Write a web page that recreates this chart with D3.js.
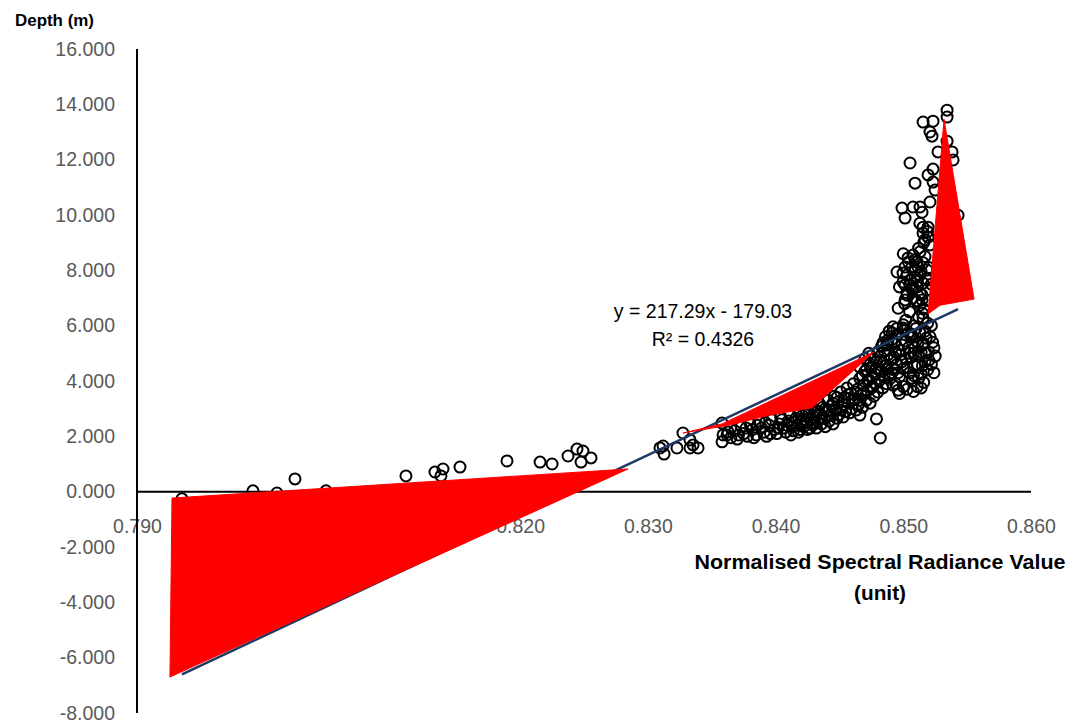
<!DOCTYPE html>
<html><head><meta charset="utf-8">
<script src="https://cdn.jsdelivr.net/npm/d3@7"></script>
<style>body{margin:0;background:#fff}svg{display:block}</style>
</head><body>
<script>
// ---- data ----
const xTicks = [0.79, 0.80, 0.81, 0.82, 0.83, 0.84, 0.85, 0.86];
const yTicks = [-8, -6, -4, -2, 0, 2, 4, 6, 8, 10, 12, 14, 16];
const trendSlope = 217.29, trendIntercept = -179.03, rSquared = 0.4326;

const sparsePoints = [
  [0.79352,-0.26],[0.79908,0.03],[0.80096,-0.05],[0.80237,0.46],[0.80480,0.03],
  [0.81106,0.57],[0.81333,0.71],[0.81396,0.82],[0.81380,0.57],[0.81529,0.89],
  [0.81897,1.11],[0.82156,1.07],[0.82250,1.00],[0.82375,1.29],[0.82445,1.54],
  [0.82492,1.47],[0.82477,1.07],[0.82555,1.22]
];
const transitionPoints = [
  [0.83119,1.65],[0.83095,1.58],[0.83127,1.36],[0.83228,1.58],[0.83275,2.12],
  [0.83330,1.87],[0.83354,1.69],[0.83393,1.58],[0.83330,1.58],[0.83581,2.48],
  [0.83589,2.05],[0.83581,1.80],[0.83628,2.16]
];
const bodyPoints = [
  [0.8362,2.05],[0.8365,1.95],[0.8368,2.20],[0.8370,1.90],[0.8373,2.35],[0.8375,2.10],[0.8378,2.00],
  [0.8380,2.45],[0.8382,2.25],[0.8385,2.05],[0.8387,2.55],[0.8389,2.30],[0.8391,2.15],[0.8393,2.00],
  [0.8395,2.40],[0.8397,2.60],[0.8399,2.25],
  [0.8401,2.10],[0.8403,2.45],[0.8404,2.70],[0.8406,2.30],[0.8408,2.15],[0.8410,2.55],[0.8411,2.85],
  [0.8413,2.35],[0.8414,2.20],[0.8416,2.65],[0.8417,2.40],[0.8418,2.90],[0.8419,2.25],[0.8420,2.55],
  [0.8421,2.75],[0.8422,2.35],[0.8423,3.00],[0.8424,2.50],[0.8425,2.25],[0.8426,2.85],[0.8427,2.60],
  [0.8428,3.10],[0.8429,2.40],[0.8430,2.70],[0.8431,2.95],[0.8432,2.30],[0.8433,2.55],[0.8434,3.20],
  [0.8435,2.80],[0.8436,2.45],[0.8437,3.05],[0.8438,2.65],[0.8439,2.35],[0.8440,2.90],
  [0.8441,3.30],[0.8442,2.55],[0.8443,2.75],[0.8444,3.10],[0.8445,2.45],[0.8446,3.45],[0.8447,2.95],
  [0.8448,2.65],[0.8449,3.25],[0.8450,2.80],[0.8451,3.60],[0.8452,3.05],[0.8453,2.70],[0.8454,3.40],
  [0.8455,2.90],[0.8456,3.75],[0.8457,3.20],[0.8458,2.85],[0.8459,3.55],[0.8460,3.00],
  [0.8461,3.90],[0.8462,3.35],[0.8463,2.95],[0.8464,3.70],[0.8465,3.15],[0.8466,4.10],[0.8467,3.50],
  [0.8468,3.05],[0.8469,3.85],[0.8470,4.35],[0.8471,3.30],[0.8472,3.65],[0.8473,4.05],[0.8474,3.20],
  [0.8475,4.50],[0.8476,3.80],[0.8477,3.45],[0.8478,4.25],[0.8479,4.70],[0.8480,3.60],
  [0.8482,1.94],[0.8479,2.63],[0.8466,2.77],
  [0.8481,4.00],[0.8482,4.90],[0.8483,4.35],[0.8484,3.75],[0.8485,5.10],[0.8486,4.55],[0.8487,3.90],
  [0.8488,5.35],[0.8489,4.20],[0.8490,4.75],[0.8491,5.50],[0.8492,3.85],[0.8493,4.40],[0.8494,5.05],
  [0.8495,4.60],[0.8496,5.70],[0.8497,4.15],[0.8498,4.95],[0.8499,5.30],[0.8500,4.45],
  [0.8501,5.85],[0.8502,4.80],[0.8503,3.70],[0.8504,5.20],[0.8505,4.30],[0.8506,5.60],[0.8507,4.00],
  [0.8508,5.00],[0.8509,4.55],[0.8510,5.45],[0.8511,3.80],[0.8512,4.90],[0.8513,5.75],[0.8514,4.25],
  [0.8515,5.30],[0.8516,3.95],[0.8517,4.70],[0.8518,5.55],[0.8519,4.40],[0.8520,5.05],
  [0.8522,4.60],[0.8524,5.20],[0.8496,3.67],[0.8507,4.10],
  [0.8365,2.30],[0.8371,2.05],[0.8377,2.30],[0.8383,1.95],[0.8386,2.40],[0.8392,2.50],[0.8396,2.10],
  [0.8402,2.30],[0.8405,2.60],[0.8409,2.40],[0.8412,2.05],[0.8415,2.50],[0.8418,2.15],[0.8421,2.45],
  [0.8424,2.85],[0.8427,2.30],[0.8430,2.50],[0.8433,2.90],[0.8436,2.65],[0.8439,3.00],[0.8442,2.95],
  [0.8445,3.20],[0.8448,3.40],[0.8451,2.95],[0.8454,3.15],[0.8457,3.50],[0.8460,3.30],[0.8463,3.60],
  [0.8466,3.30],[0.8469,3.55],[0.8472,4.00],[0.8475,3.75],[0.8478,3.90],[0.8481,4.40],[0.8484,4.65],
  [0.8487,4.45],[0.8490,4.10],[0.8493,4.85],[0.8496,4.30],[0.8499,4.70],[0.8502,5.45],[0.8505,5.00],
  [0.8508,4.20],[0.8511,4.60],[0.8514,5.05],[0.8517,5.80],[0.8520,4.75],[0.8523,5.40],[0.8486,5.60],
  [0.8489,5.80],[0.8495,5.90],[0.8483,5.25],[0.8480,5.05],[0.8477,4.80],[0.8474,4.60],[0.8471,4.40],
  [0.8468,4.20],[0.8470,4.80],[0.8473,5.00],[0.8466,4.50],
  [0.8492,5.96],[0.8500,6.03],[0.8519,6.09],[0.8512,6.31],[0.8515,6.45],[0.8513,6.74],[0.8496,6.63],
  [0.8491,4.30],[0.8494,3.90],[0.8497,5.10],[0.8500,3.80],[0.8503,4.50],[0.8506,4.85],[0.8509,5.20],
  [0.8512,4.10],[0.8515,4.55],[0.8518,5.00],[0.8521,5.60],[0.8524,4.30],[0.8525,4.90],[0.8488,4.95],
  [0.8485,4.20],[0.8482,4.70],[0.8479,4.45],[0.8476,4.15],[0.8487,5.30],[0.8493,5.35],[0.8504,5.75],
  [0.8510,5.90],[0.8516,5.35],[0.8522,6.00],[0.8497,3.55],[0.8508,3.62],[0.8514,3.75]
];
const columnPoints = [
  [0.85343,13.79],[0.85343,13.54],[0.85155,13.36],[0.85233,13.39],[0.85209,13.00],[0.85225,12.85],
  [0.85343,12.67],[0.85272,12.28],[0.85382,12.28],[0.85390,11.99],[0.85053,11.88],[0.85233,11.66],
  [0.85194,11.45],[0.85233,11.19],[0.85092,11.15],[0.85249,10.90],[0.85209,10.47],[0.85076,10.29],
  [0.85131,10.29],[0.85147,10.10],[0.84990,10.25],[0.85014,9.89],[0.85429,9.99],[0.85155,9.56],
  [0.85194,9.56],[0.85155,9.34],[0.85194,9.20],[0.85170,9.10],[0.85209,8.92],[0.85131,8.67],
  [0.85076,8.55],[0.85037,8.45],[0.85092,8.38],[0.85014,8.12],[0.85068,8.12],[0.85115,8.12],
  [0.85155,8.27],[0.85186,8.01],[0.85029,7.83],[0.85092,7.76],[0.85131,7.83],[0.84998,7.58],
  [0.85053,7.47],[0.85108,7.40],[0.85155,7.54],[0.85029,7.18],[0.85076,7.00],[0.85147,7.11],
  [0.85186,7.29],[0.85014,6.93],[0.84951,7.94],[0.84998,7.90],[0.85108,8.30],[0.85053,7.65],
  [0.85014,7.47],[0.85076,7.36],[0.85131,7.18],[0.85108,6.86],[0.85147,6.93],[0.85155,6.28],
  [0.84841,5.38],[0.84912,5.74],[0.84998,5.92],[0.85076,5.59],[0.85115,5.38],[0.84880,5.48],
  [0.8502,6.20],[0.8505,6.50],[0.8508,6.00],[0.8510,6.90],[0.8503,7.10],[0.8507,7.30],[0.8511,7.60],
  [0.8514,7.95],[0.8517,8.50],[0.8512,8.80],[0.8516,9.00],[0.8519,9.40],[0.8513,9.70],[0.8520,8.10],
  [0.8518,7.70],[0.8509,8.00],[0.8504,8.30],[0.8500,8.60],[0.8497,7.40],[0.8501,6.80],[0.8506,5.70],
  [0.8516,6.60],[0.8520,6.90],[0.8522,7.50]
];
const redShapeA = [[0.79274,-0.23],[0.79258,-6.70],[0.82845,0.82]];
const redShapeB = [[0.83275,2.12],[0.83581,2.45],[0.84771,5.05],[0.84286,3.03],[0.83957,2.77],[0.83643,2.41]];
const redShapeC = [[0.85319,13.46],[0.85554,6.96],[0.85288,6.74],[0.85194,6.42]];

// ---- chart ----
const W = 1071, H = 725;
const svg = d3.select("body").append("svg").attr("width", W).attr("height", H);
const x = d3.scaleLinear().domain([0.79, 0.86]).range([137, 1031]);
const y = d3.scaleLinear().domain([-8, 16]).range([713, 49]);
const font = "'Liberation Sans', Arial, sans-serif";

// y axis labels
const yAx = svg.append("g").attr("transform", `translate(${x(0.79)},0)`)
  .call(d3.axisLeft(y).tickValues(yTicks).tickSize(0).tickPadding(22).tickFormat(d => d.toFixed(3)));
yAx.select(".domain").remove();
yAx.selectAll("text").attr("font-family", font).attr("font-size", 19.5).attr("fill", "#595959");

// x axis labels
const xAx = svg.append("g").attr("transform", `translate(0,${y(0)})`)
  .call(d3.axisBottom(x).tickValues(xTicks).tickSize(0).tickPadding(27).tickFormat(d => d.toFixed(3)));
xAx.select(".domain").remove();
xAx.selectAll("text").attr("font-family", font).attr("font-size", 19.5).attr("fill", "#595959");

// axis lines
svg.append("line").attr("x1", x(0.79)).attr("x2", x(0.79)).attr("y1", y(16)).attr("y2", y(-8))
  .attr("stroke", "#000").attr("stroke-width", 2);
svg.append("line").attr("x1", x(0.79)).attr("x2", x(0.86)).attr("y1", y(0)).attr("y2", y(0))
  .attr("stroke", "#000").attr("stroke-width", 2);

// points
const allPoints = [...sparsePoints, ...transitionPoints, ...bodyPoints, ...columnPoints];
svg.append("g").selectAll("circle").data(allPoints).join("circle")
  .attr("cx", d => x(d[0])).attr("cy", d => y(d[1])).attr("r", 5.5)
  .attr("fill", "none").attr("stroke", "#000").attr("stroke-width", 2);

// trend line
const xs = d3.extent(allPoints, d => d[0]);
svg.append("line")
  .attr("x1", x(xs[0])).attr("y1", y(trendSlope * xs[0] + trendIntercept))
  .attr("x2", x(xs[1])).attr("y2", y(trendSlope * xs[1] + trendIntercept))
  .attr("stroke", "#1f3864").attr("stroke-width", 2.5);

// red shapes
const poly = d3.line().x(d => x(d[0])).y(d => y(d[1])).curve(d3.curveLinearClosed);
svg.append("g").selectAll("path").data([redShapeA, redShapeB, redShapeC]).join("path")
  .attr("d", poly).attr("fill", "#ff0000").attr("stroke", "#ff0000").attr("stroke-width", 1);

// equation
svg.append("text").attr("x", 703).attr("y", 318).attr("text-anchor", "middle")
  .attr("font-family", font).attr("font-size", 19.5).attr("fill", "#000")
  .text(`y = ${trendSlope}x - ${Math.abs(trendIntercept)}`);
svg.append("text").attr("x", 703).attr("y", 346).attr("text-anchor", "middle")
  .attr("font-family", font).attr("font-size", 19.5).attr("fill", "#000")
  .text(`R² = ${rSquared}`);

// titles
svg.append("text").attr("x", 15).attr("y", 26).attr("font-family", font).attr("font-weight", "bold")
  .attr("font-size", 17).attr("textLength", 79).attr("lengthAdjust", "spacingAndGlyphs").text("Depth (m)");
svg.append("text").attr("x", 880).attr("y", 569).attr("text-anchor", "middle").attr("font-family", font)
  .attr("font-weight", "bold").attr("font-size", 19.5).attr("textLength", 371)
  .attr("lengthAdjust", "spacingAndGlyphs").text("Normalised Spectral Radiance Value");
svg.append("text").attr("x", 880).attr("y", 600).attr("text-anchor", "middle").attr("font-family", font)
  .attr("font-weight", "bold").attr("font-size", 19.5).attr("textLength", 52)
  .attr("lengthAdjust", "spacingAndGlyphs").text("(unit)");
</script>
</body></html>
